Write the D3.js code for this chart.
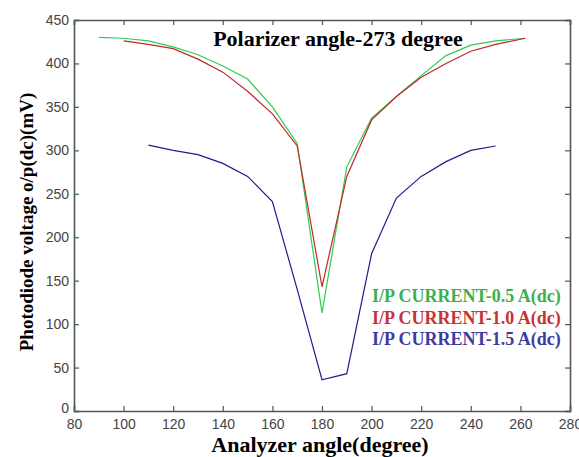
<!DOCTYPE html>
<html>
<head>
<meta charset="utf-8">
<script src="https://cdn.jsdelivr.net/npm/d3@7"></script>
<style>
  body { margin: 0; background: #fff; }
  .tick text { font-family: "Liberation Sans", Arial, sans-serif; font-size: 14px; fill: #444; }
</style>
</head>
<body>
<script>
// Data
var angles05 = [90, 100, 110, 120, 130, 140, 150, 160, 170, 180, 190, 200, 210, 220, 230, 240, 250, 262];
var volts05  = [430, 429, 426, 419, 410, 397, 382, 350, 308, 113, 281, 337, 362, 386, 409, 421, 426, 429];

var angles10 = [100, 110, 120, 130, 140, 150, 160, 170, 180, 190, 200, 210, 220, 230, 240, 250, 262];
var volts10  = [426, 422, 417, 405, 390, 368, 342, 305, 143, 270, 335, 362, 384, 400, 414, 422, 429];

var angles15 = [110, 120, 130, 140, 150, 160, 170, 180, 190, 200, 210, 220, 230, 240, 250];
var volts15  = [306, 300, 295, 285, 270, 241, 140, 36, 43, 181, 245, 270, 287, 300, 305];

var xTicks = [80, 100, 120, 140, 160, 180, 200, 220, 240, 260, 280];
var yTicks = [0, 50, 100, 150, 200, 250, 300, 350, 400, 450];

var titleText = "Polarizer angle-273 degree";
var legendLabels = ["I/P CURRENT-0.5 A(dc)", "I/P CURRENT-1.0 A(dc)", "I/P CURRENT-1.5 A(dc)"];

var w = 579, h = 457;
var margin = {top: 20, right: 9, bottom: 46, left: 74};

var svg = d3.select("body").append("svg")
  .attr("width", w)
  .attr("height", h);

var x = d3.scaleLinear().domain([80, 280]).range([margin.left, w - margin.right]);
var y = d3.scaleLinear().domain([0, 450]).range([h - margin.bottom, margin.top]);

var axisColor = "#555";
var serif = "'Liberation Serif', 'Times New Roman', serif";

// axes with inward ticks
var xAxis = svg.append("g")
  .attr("transform", "translate(0," + y(0) + ")")
  .call(d3.axisBottom(x).tickValues(xTicks).tickSize(-5).tickPadding(8).tickFormat(d3.format("d")));
var xTop = svg.append("g")
  .attr("transform", "translate(0," + y(450) + ")")
  .call(d3.axisTop(x).tickValues(xTicks).tickSize(-5).tickFormat(""));
var yAxis = svg.append("g")
  .attr("transform", "translate(" + x(80) + ",0)")
  .call(d3.axisLeft(y).tickValues(yTicks).tickSize(-5).tickPadding(5));
var yRight = svg.append("g")
  .attr("transform", "translate(" + x(280) + ",0)")
  .call(d3.axisRight(y).tickValues(yTicks).tickSize(-5).tickFormat(""));

svg.selectAll(".domain").attr("stroke", axisColor).attr("stroke-width", 1.6);
svg.selectAll(".tick line").attr("stroke", axisColor).attr("stroke-width", 1.2);

// the y "0" label sits a bit higher in the original
yAxis.selectAll(".tick text").filter(d => d == 0).attr("dy", "0.1em");

// lines
var line = d3.line();
var series = [
  {a: angles05, v: volts05, color: "#2ecc52"},
  {a: angles10, v: volts10, color: "#c0282a"},
  {a: angles15, v: volts15, color: "#1e1e8c"}
];
series.forEach(function(s) {
  svg.append("path")
    .datum(s.a.map((d, i) => [x(d), y(s.v[i])]))
    .attr("d", line)
    .attr("fill", "none")
    .attr("stroke", s.color)
    .attr("stroke-width", 1.2);
});

// title
svg.append("text")
  .attr("x", 338)
  .attr("y", 46)
  .attr("text-anchor", "middle")
  .style("font-family", serif)
  .style("font-weight", "bold")
  .style("font-size", "22px")
  .text(titleText);

// legend text
var legendColors = ["#3cb050", "#c83232", "#3c3ca0"];
legendLabels.forEach(function(t, i) {
  svg.append("text")
    .attr("x", 372)
    .attr("y", 302 + i * 21.5)
    .style("font-family", serif)
    .style("font-weight", "bold")
    .style("font-size", "18px")
    .attr("fill", legendColors[i])
    .text(t);
});

// axis labels
svg.append("text")
  .attr("x", 320)
  .attr("y", 452)
  .attr("text-anchor", "middle")
  .style("font-family", serif)
  .style("font-weight", "bold")
  .style("font-size", "22px")
  .text("Analyzer angle(degree)");

svg.append("text")
  .attr("transform", "translate(33,222) rotate(-90)")
  .attr("text-anchor", "middle")
  .style("font-family", serif)
  .style("font-weight", "bold")
  .style("font-size", "19px")
  .text("Photodiode voltage o/p(dc)(mV)");
</script>
</body>
</html>
